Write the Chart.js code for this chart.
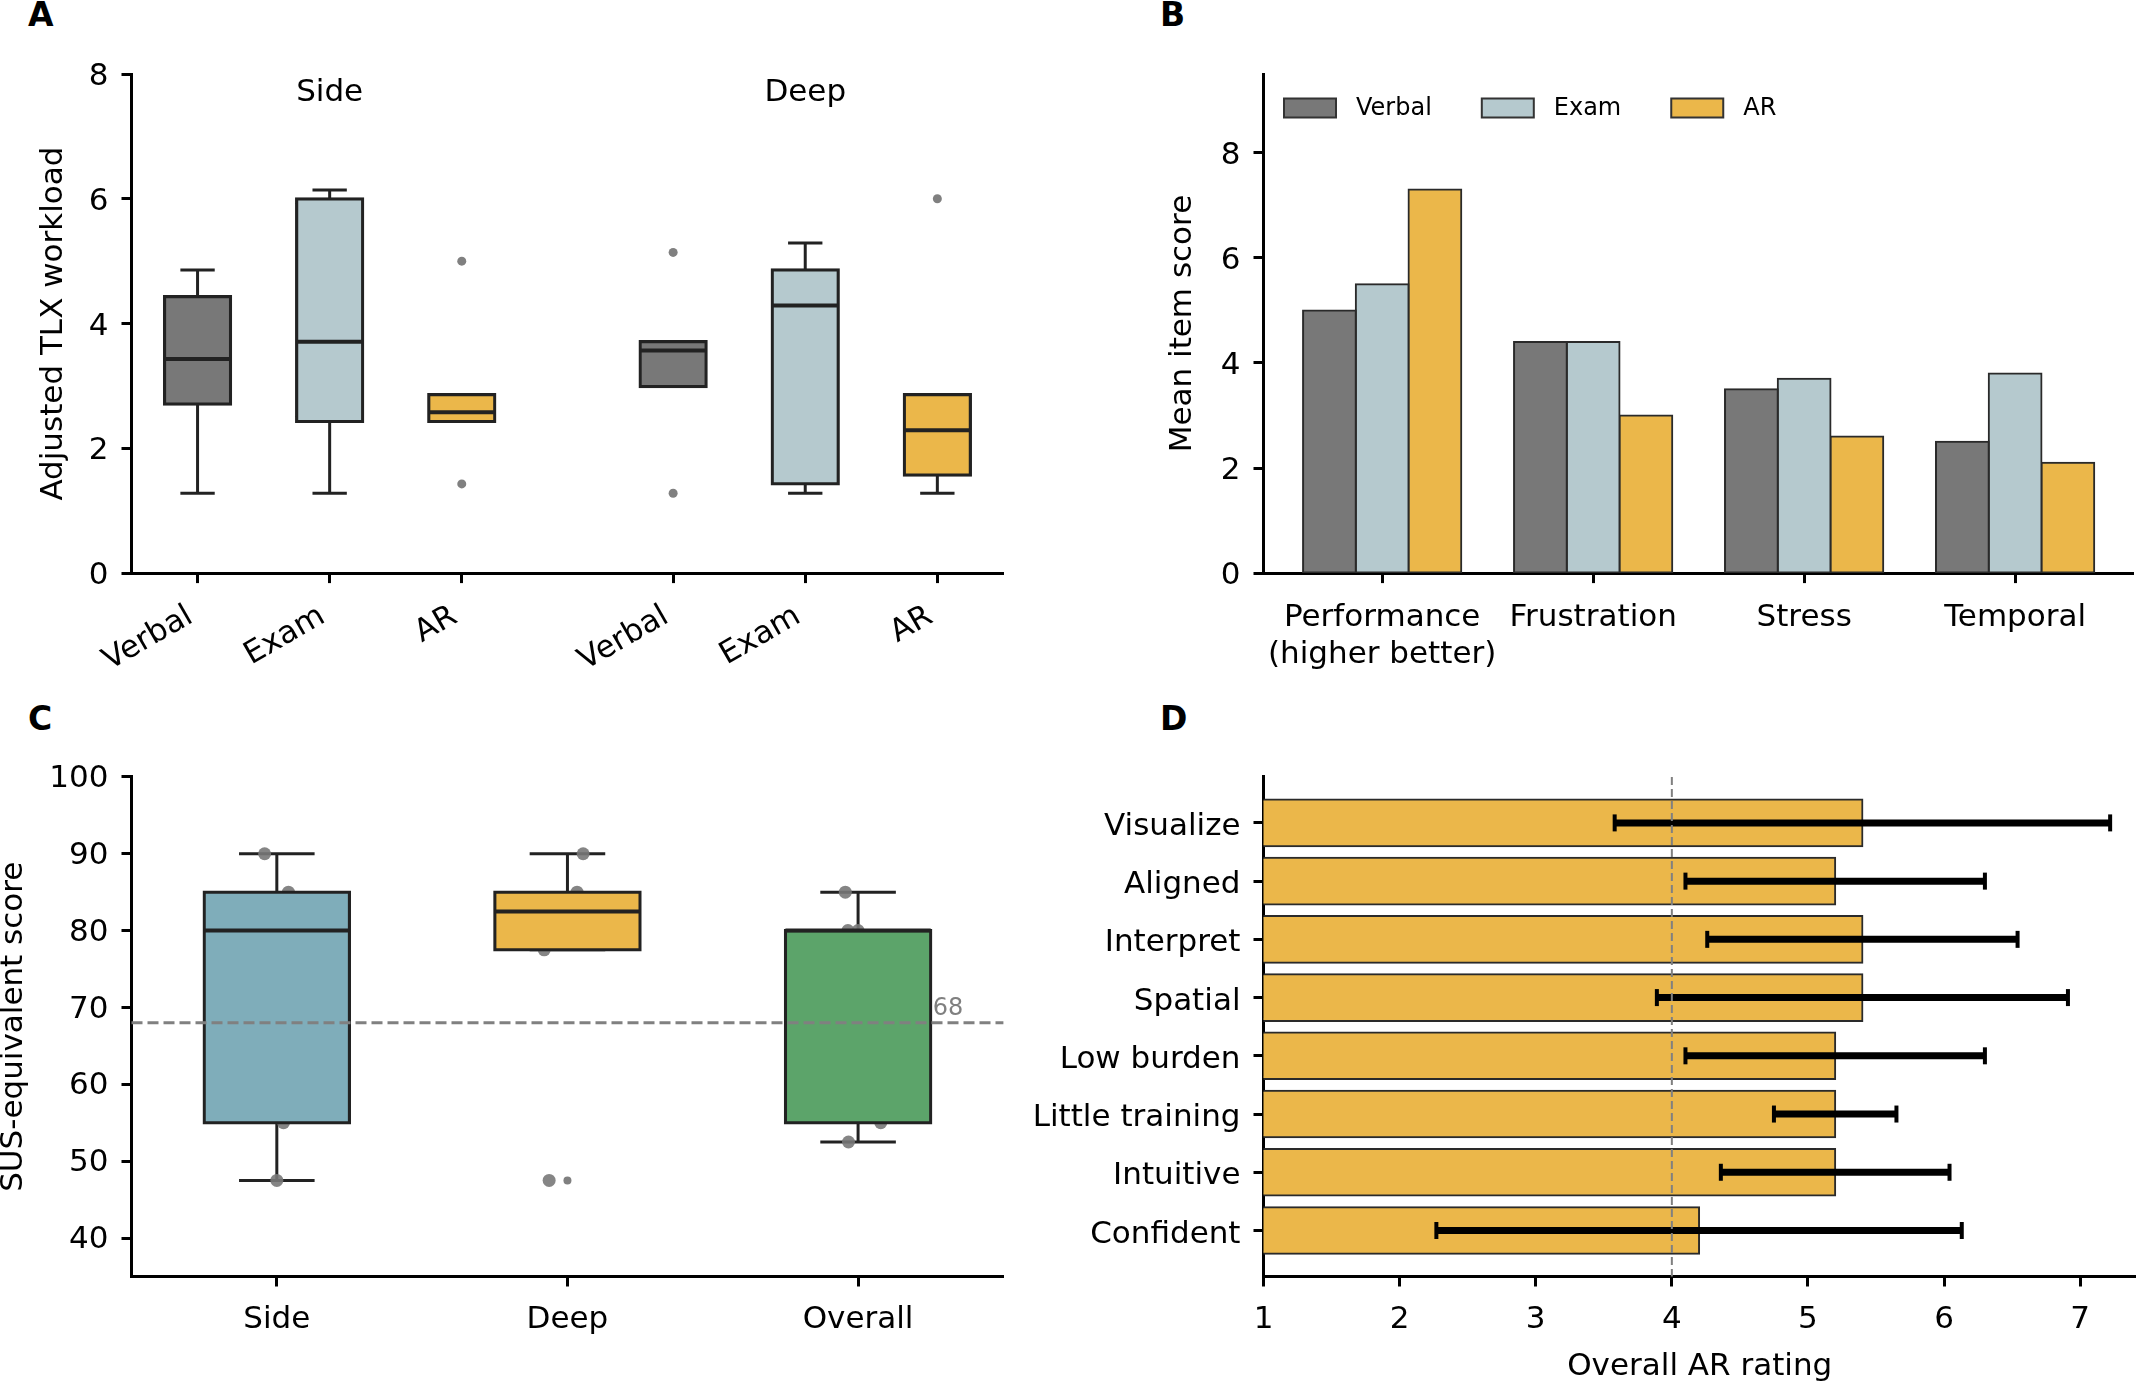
<!DOCTYPE html>
<html>
<head>
<meta charset="utf-8">
<script src="https://cdn.jsdelivr.net/npm/chart.js@4.4.1/dist/chart.umd.min.js"></script>
<style>
html, body { margin: 0; padding: 0; background: #fff; }
body { width: 2136px; height: 1382px; position: relative; overflow: hidden; }
canvas { position: absolute; }
.lbl { position: absolute; font-family: 'DejaVu Sans', sans-serif; font-weight: bold; font-size: 33px; line-height: 33px; color: #000; }
</style>
</head>
<body>
<div class="lbl" style="left:28px; top:-2px;">A</div>
<div class="lbl" style="left:1160px; top:-2px;">B</div>
<div class="lbl" style="left:28px; top:702px;">C</div>
<div class="lbl" style="left:1160px; top:702px;">D</div>
<canvas id="cA" width="1068" height="691" style="left:0px; top:0px;"></canvas>
<canvas id="cB" width="1068" height="691" style="left:1068px; top:0px;"></canvas>
<canvas id="cC" width="1068" height="691" style="left:0px; top:691px;"></canvas>
<canvas id="cD" width="1136" height="691" style="left:1000px; top:691px;"></canvas>
<script>
// ---------------- DATA ----------------
// Panel A: adjusted TLX workload box plots
const tlxGroups = ['Side', 'Deep'];
const tlxConditions = ['Verbal', 'Exam', 'AR'];
const tlxWhiskerLow  = [1.28, 1.28, 2.43, 2.99, 1.28, 1.28];
const tlxQ1          = [2.71, 2.43, 2.43, 2.99, 1.43, 1.57];
const tlxMedian      = [3.43, 3.71, 2.58, 3.57, 4.29, 2.29];
const tlxQ3          = [4.43, 6.00, 2.86, 3.71, 4.86, 2.86];
const tlxWhiskerHigh = [4.86, 6.14, 2.86, 3.71, 5.29, 2.86];
const tlxOutliers    = [[], [], [5.0, 1.43], [5.14, 1.28], [], [6.0]];
const tlxTicks = [0, 2, 4, 6, 8];

// Panel B: mean item scores
const itemCategories = [['Performance', '(higher better)'], 'Frustration', 'Stress', 'Temporal'];
const itemVerbal = [5.0, 4.4, 3.5, 2.5];
const itemExam   = [5.5, 4.4, 3.7, 3.8];
const itemAR     = [7.3, 3.0, 2.6, 2.1];
const itemTicks = [0, 2, 4, 6, 8];

// Panel C: SUS-equivalent scores
const susGroups = ['Side', 'Deep', 'Overall'];
const susWhiskerLow  = [47.5, 77.5, 52.5];
const susQ1          = [55, 77.5, 55];
const susMedian      = [80, 82.5, 80];
const susQ3          = [85, 85, 80];
const susWhiskerHigh = [90, 90, 85];
const susOutliers    = [[], [47.5], []];
const susScores = [[90, 85, 80, 55, 47.5], [90, 85, 82.5, 77.5, 47.5], [85, 80, 80, 55, 52.5]];
const susJitter = [[-0.042, 0.040, 0.01, 0.023, 0.0], [0.054, 0.033, 0.02, -0.080, -0.063], [-0.044, -0.035, 0.0, 0.078, -0.033]];
const susBenchmark = 68;
const susTicks = [40, 50, 60, 70, 80, 90, 100];

// Panel D: overall AR ratings (mean +/- SD)
const arItems = ['Visualize', 'Aligned', 'Interpret', 'Spatial', 'Low burden', 'Little training', 'Intuitive', 'Confident'];
const arMean = [5.4, 5.2, 5.4, 5.4, 5.2, 5.2, 5.2, 4.2];
const arSD   = [1.82, 1.10, 1.14, 1.51, 1.10, 0.45, 0.84, 1.93];
const arNeutral = 4;
const arTicks = [1, 2, 3, 4, 5, 6, 7];

// ---------------- STYLE ----------------
const FONT = 31;
const COL = { Verbal: '#787878', Exam: '#B5C9CE', AR: '#EBB74A' };
const SUS_COL = ['#7FADBA', '#EBB74A', '#5CA46A'];
const BAR_COL = '#EBB74A';
const LINE = '#222222';
const GROUP_GAP = 0.6;

Chart.defaults.font.family = "'DejaVu Sans', sans-serif";
Chart.defaults.font.size = FONT;
Chart.defaults.font.lineHeight = 1.2;
Chart.defaults.color = '#000';
Chart.defaults.animation = false;
Chart.defaults.plugins.legend.display = false;
Chart.defaults.plugins.tooltip.enabled = false;

function makeAxis(o) {
  return {
    type: 'linear', min: o.min, max: o.max, reverse: !!o.reverse, offset: false,
    afterBuildTicks: s => { s.ticks = o.ticks.map(v => ({ value: v })); },
    afterFit: s => {
      if (o.vertical) s.width = o.fixed; else s.height = o.fixed;
      s.paddingLeft = 0; s.paddingRight = 0; s.paddingTop = 0; s.paddingBottom = 0;
    },
    border: { display: true, color: '#000', width: 3 },
    grid: { display: true, offset: false, drawOnChartArea: false, drawTicks: true, tickLength: 10, tickWidth: 3, tickColor: '#000' },
    ticks: {
      color: '#000', padding: o.pad !== undefined ? o.pad : 12, autoSkip: false,
      labelOffset: o.labelOffset || 0,
      minRotation: o.rotation || 0, maxRotation: o.rotation || 0, includeBounds: false,
      callback: (v, i) => o.labels ? o.labels[i] : String(v)
    },
    title: o.title ? {
      display: true, text: o.title, color: '#000',
      font: { size: FONT, lineHeight: 1.2 },
      padding: o.vertical ? { top: o.titlePad, bottom: 0 } : { top: 0, bottom: o.titlePad }
    } : { display: false }
  };
}

function line(ctx, x1, y1, x2, y2) {
  ctx.beginPath(); ctx.moveTo(x1, y1); ctx.lineTo(x2, y2); ctx.stroke();
}

function boxPlugin(pos, wLo, wHi, med, half, capHalf) {
  return {
    id: 'boxparts',
    beforeDatasetsDraw(chart) {
      const { ctx, scales: { x, y } } = chart;
      ctx.save();
      ctx.strokeStyle = LINE; ctx.lineWidth = 3; ctx.lineCap = 'butt';
      pos.forEach((p, i) => {
        const cx = x.getPixelForValue(p);
        line(ctx, cx, y.getPixelForValue(wLo[i]), cx, y.getPixelForValue(wHi[i]));
        const c1 = x.getPixelForValue(p - capHalf), c2 = x.getPixelForValue(p + capHalf);
        line(ctx, c1, y.getPixelForValue(wLo[i]), c2, y.getPixelForValue(wLo[i]));
        line(ctx, c1, y.getPixelForValue(wHi[i]), c2, y.getPixelForValue(wHi[i]));
      });
      ctx.restore();
    },
    afterDatasetsDraw(chart) {
      const { ctx, scales: { x, y } } = chart;
      ctx.save();
      ctx.strokeStyle = LINE; ctx.lineWidth = 4;
      pos.forEach((p, i) => {
        const ym = y.getPixelForValue(med[i]);
        line(ctx, x.getPixelForValue(p - half), ym, x.getPixelForValue(p + half), ym);
      });
      ctx.restore();
    }
  };
}

// ---------------- PANEL A ----------------
const tlxPos = [], tlxLabels = [], tlxColors = [];
tlxGroups.forEach((g, gi) => tlxConditions.forEach((c, ci) => {
  tlxPos.push(gi * (tlxConditions.length + GROUP_GAP) + ci);
  tlxLabels.push(c);
  tlxColors.push(COL[c]);
}));
const tlxFliers = [];
tlxOutliers.forEach((arr, i) => arr.forEach(v => tlxFliers.push({ x: tlxPos[i], y: v })));

new Chart(document.getElementById('cA'), {
  type: 'bar',
  data: {
    datasets: [
      {
        type: 'bar',
        data: tlxPos.map((p, i) => ({ x: p, y: [tlxQ1[i], tlxQ3[i]] })),
        backgroundColor: tlxColors, borderColor: LINE, borderWidth: 3.2, borderSkipped: false,
        inflateAmount: 1.6, categoryPercentage: 0.5, barPercentage: 1
      },
      {
        type: 'scatter', data: tlxFliers, pointRadius: 4.5, backgroundColor: '#808080', borderWidth: 0
      }
    ]
  },
  options: {
    responsive: false, devicePixelRatio: 1,
    layout: { padding: { top: 74, right: 64.6, left: 0, bottom: 0 }, autoPadding: false },
    scales: {
      x: makeAxis({ min: -0.5, max: 6.1, ticks: tlxPos, labels: tlxLabels, fixed: 117.9, rotation: 30, pad: 15, labelOffset: -7 }),
      y: makeAxis({ min: 0, max: 8, ticks: tlxTicks, vertical: true, fixed: 131.5, title: 'Adjusted TLX workload', titlePad: 35.2, pad: 13, labelOffset: 3 })
    }
  },
  plugins: [boxPlugin(tlxPos, tlxWhiskerLow, tlxWhiskerHigh, tlxMedian, 0.25, 0.13), {
    id: 'groupTitles',
    afterDraw(chart) {
      const { ctx, scales: { x, y } } = chart;
      ctx.save();
      ctx.font = FONT + "px 'DejaVu Sans'";
      ctx.fillStyle = '#000'; ctx.textAlign = 'center'; ctx.textBaseline = 'middle';
      tlxGroups.forEach((g, gi) => {
        const center = gi * (tlxConditions.length + GROUP_GAP) + (tlxConditions.length - 1) / 2;
        ctx.fillText(g, x.getPixelForValue(center), y.getPixelForValue(7.7));
      });
      ctx.restore();
    }
  }]
});

// ---------------- PANEL B ----------------
const catIdx = itemCategories.map((c, i) => i);
new Chart(document.getElementById('cB'), {
  type: 'bar',
  data: {
    datasets: [
      { label: 'Verbal', data: itemVerbal.map((v, i) => ({ x: i, y: v })), backgroundColor: COL.Verbal },
      { label: 'Exam', data: itemExam.map((v, i) => ({ x: i, y: v })), backgroundColor: COL.Exam },
      { label: 'AR', data: itemAR.map((v, i) => ({ x: i, y: v })), backgroundColor: COL.AR }
    ].map(d => Object.assign(d, { borderColor: '#2a2a2a', borderWidth: 2, borderSkipped: false, inflateAmount: 1, categoryPercentage: 0.75, barPercentage: 1 }))
  },
  options: {
    responsive: false, devicePixelRatio: 1,
    layout: { padding: { top: 74, right: 2.2, left: 0, bottom: 0 }, autoPadding: false },
    scales: {
      x: makeAxis({ min: -0.5625, max: 3.5625, ticks: catIdx, labels: itemCategories, fixed: 117.9, pad: 16 }),
      y: makeAxis({ min: 0, max: 9.5, ticks: itemTicks, vertical: true, fixed: 195.5, title: 'Mean item score', titlePad: 96.5, pad: 13, labelOffset: 3 })
    }
  },
  plugins: [{
    id: 'legendB',
    afterDraw(chart) {
      const { ctx, chartArea } = chart;
      ctx.save();
      ctx.font = "24px 'DejaVu Sans'";
      ctx.textBaseline = 'middle';
      let x = chartArea.left + 20.5;
      const yc = chartArea.top + 34;
      chart.data.datasets.forEach(ds => {
        ctx.fillStyle = ds.backgroundColor;
        ctx.fillRect(x, yc - 9.5, 52, 19);
        ctx.strokeStyle = '#333'; ctx.lineWidth = 2;
        ctx.strokeRect(x, yc - 9.5, 52, 19);
        ctx.fillStyle = '#000';
        ctx.fillText(ds.label, x + 72, yc + 1);
        x += 72 + ctx.measureText(ds.label).width + 50;
      });
      ctx.restore();
    }
  }]
});

// ---------------- PANEL C ----------------
const susPos = susGroups.map((g, i) => i);
const susPoints = [];
susScores.forEach((arr, i) => arr.forEach((v, k) => susPoints.push({ x: susPos[i] + susJitter[i][k], y: v })));
const susFliers = [];
susOutliers.forEach((arr, i) => arr.forEach(v => susFliers.push({ x: susPos[i], y: v })));

new Chart(document.getElementById('cC'), {
  type: 'bar',
  data: {
    datasets: [
      {
        type: 'bar',
        data: susPos.map((p, i) => ({ x: p, y: [susQ1[i], susQ3[i]] })),
        backgroundColor: SUS_COL, borderColor: LINE, borderWidth: 3.2, borderSkipped: false,
        inflateAmount: 1.6, categoryPercentage: 0.5, barPercentage: 1
      },
      { type: 'scatter', data: susPoints, pointRadius: 6.5, backgroundColor: 'rgba(120,120,120,0.9)', borderWidth: 0 },
      { type: 'scatter', data: susFliers, pointRadius: 4, backgroundColor: '#808080', borderWidth: 0 }
    ]
  },
  options: {
    responsive: false, devicePixelRatio: 1,
    layout: { padding: { top: 85.9, right: 64.6, left: 0, bottom: 0 }, autoPadding: false },
    scales: {
      x: makeAxis({ min: -0.5, max: 2.5, ticks: susPos, labels: susGroups, fixed: 105.5, pad: 14.5 }),
      y: makeAxis({ min: 35, max: 100, ticks: susTicks, vertical: true, fixed: 131.5, title: 'SUS-equivalent score', titlePad: -4.3, pad: 13, labelOffset: 2 })
    }
  },
  plugins: [boxPlugin(susPos, susWhiskerLow, susWhiskerHigh, susMedian, 0.25, 0.13), {
    id: 'benchmark',
    afterDatasetsDraw(chart) {
      const { ctx, chartArea, scales: { x, y } } = chart;
      const yb = y.getPixelForValue(susBenchmark);
      ctx.save();
      ctx.strokeStyle = '#808080'; ctx.lineWidth = 3; ctx.setLineDash([11, 5]);
      line(ctx, chartArea.left, yb, chartArea.right, yb);
      ctx.setLineDash([]);
      ctx.font = "24px 'DejaVu Sans'";
      ctx.fillStyle = '#808080'; ctx.textAlign = 'left'; ctx.textBaseline = 'alphabetic';
      ctx.fillText(String(susBenchmark), x.getPixelForValue(2.257), y.getPixelForValue(susBenchmark + 1));
      ctx.restore();
    }
  }]
});

// ---------------- PANEL D ----------------
const arIdx = arItems.map((c, i) => i);
new Chart(document.getElementById('cD'), {
  type: 'bar',
  data: {
    datasets: [{
      data: arMean.map((v, i) => ({ x: v, y: i })),
      backgroundColor: BAR_COL, borderColor: '#2a2a2a', borderWidth: 2, borderSkipped: 'start',
      inflateAmount: 1, categoryPercentage: 0.8, barPercentage: 1
    }]
  },
  options: {
    indexAxis: 'y',
    responsive: false, devicePixelRatio: 1,
    layout: { padding: { top: 85.9, right: 0, left: 0, bottom: 0 }, autoPadding: false },
    scales: {
      x: makeAxis({ min: 1, max: 7.41, ticks: arTicks, fixed: 105.5, title: 'Overall AR rating', titlePad: -3.3, pad: 14.5 }),
      y: makeAxis({ min: -0.79, max: 7.79, reverse: true, ticks: arIdx, labels: arItems, vertical: true, fixed: 263.5, pad: 13, labelOffset: 4 })
    }
  },
  plugins: [{
    id: 'errorbars',
    afterDatasetsDraw(chart) {
      const { ctx, chartArea, scales: { x, y } } = chart;
      ctx.save();
      ctx.strokeStyle = '#000';
      arMean.forEach((m, i) => {
        const yy = y.getPixelForValue(i);
        const x1 = x.getPixelForValue(m - arSD[i]), x2 = x.getPixelForValue(m + arSD[i]);
        ctx.lineWidth = 7; line(ctx, x1, yy, x2, yy);
        ctx.lineWidth = 4;
        line(ctx, x1, yy - 8.5, x1, yy + 8.5);
        line(ctx, x2, yy - 8.5, x2, yy + 8.5);
      });
      const xn = x.getPixelForValue(arNeutral);
      ctx.strokeStyle = '#808080'; ctx.lineWidth = 2; ctx.setLineDash([8, 4]);
      line(ctx, xn, chartArea.top, xn, chartArea.bottom);
      ctx.restore();
    }
  }]
});
</script>
</body>
</html>
